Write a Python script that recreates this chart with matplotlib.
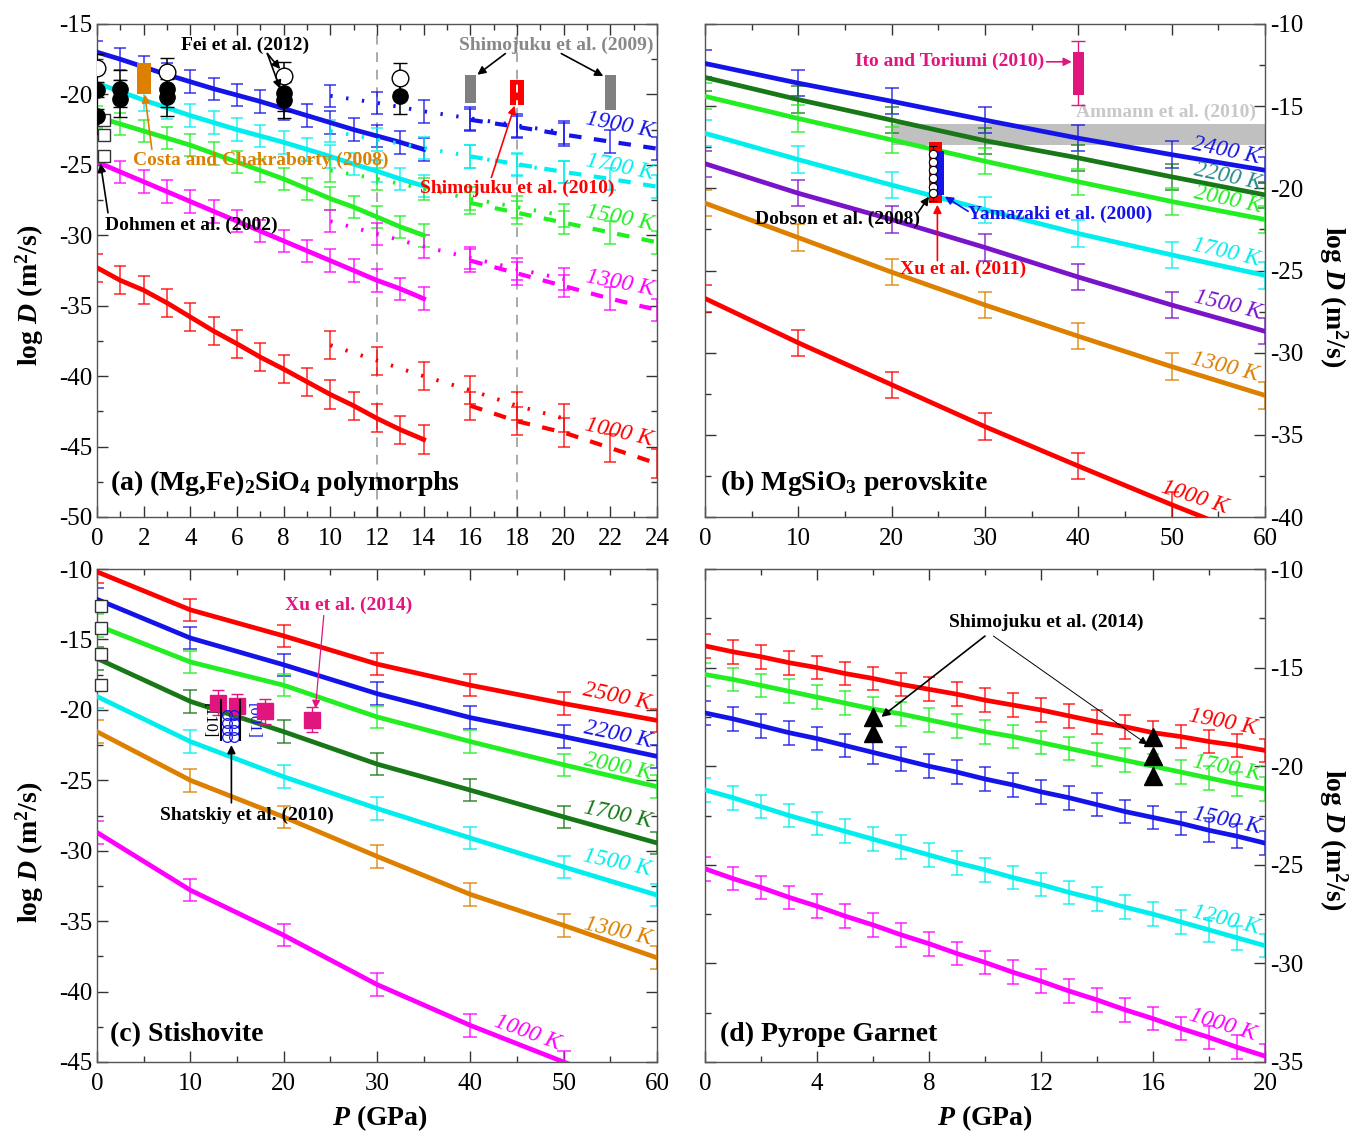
import matplotlib
matplotlib.use('Agg')
import matplotlib.pyplot as plt
import numpy as np
from matplotlib.ticker import MultipleLocator

plt.rcParams['font.family'] = ['Liberation Serif', 'DejaVu Serif']
plt.rcParams['mathtext.fontset'] = 'custom'
plt.rcParams['mathtext.rm'] = 'Liberation Serif:bold'
plt.rcParams['mathtext.it'] = 'Liberation Serif:italic:bold'
plt.rcParams['mathtext.bf'] = 'Liberation Serif:bold'
plt.rcParams['axes.unicode_minus'] = False

BLUE = '#1414e8'
CYAN = '#00eeee'
GREEN = '#22ee22'
MAGENTA = '#ff00ff'
RED = '#ff0000'
DKGREEN = '#187818'
PURPLE = '#7a14c8'
ORANGE = '#dd8000'
PINK = '#e0167e'

# ---------------- (a) (Mg,Fe)2SiO4 polymorphs ----------------
A_P_SOLID = list(range(15))
A_1900 = [-17.0, -17.5, -18.05, -18.6, -19.1, -19.6, -20.05, -20.5, -21.0, -21.5, -22.0, -22.5, -22.95, -23.4, -23.9]
A_1700 = [-19.2, -19.8, -20.4, -20.95, -21.5, -22.0, -22.5, -22.95, -23.4, -23.9, -24.4, -24.95, -25.45, -26.0, -26.5]
A_1500 = [-21.6, -22.1, -22.6, -23.1, -23.6, -24.2, -24.8, -25.4, -26.0, -26.7, -27.4, -28.0, -28.7, -29.4, -30.0]
A_1300 = [-24.8, -25.5, -26.2, -26.9, -27.6, -28.3, -29.0, -29.7, -30.4, -31.1, -31.8, -32.5, -33.2, -33.8, -34.5]
A_1000 = [-32.3, -33.2, -33.9, -34.8, -35.8, -36.8, -37.7, -38.65, -39.5, -40.4, -41.3, -42.1, -43.0, -43.8, -44.5]

A_P_DOT = [10, 12, 14, 16, 18, 20]
A_1900_DOT = [-20.1, -20.6, -21.2, -21.7, -22.2, -22.7]
A_1700_DOT = [-22.6, -23.2, -23.8, -24.4, -25.0, -25.5]
A_1500_DOT = [-25.4, -26.0, -26.7, -27.4, -28.0, -28.6]
A_1300_DOT = [-29.0, -29.9, -30.8, -31.6, -32.4, -33.1]
A_1000_DOT = [-37.8, -38.9, -40.0, -41.0, -42.1, -43.0]

A_P_DASH = [16, 18, 20, 22, 24]
A_1900_DASH = [-21.8, -22.3, -22.85, -23.35, -23.85]
A_1700_DASH = [-24.4, -24.95, -25.5, -26.0, -26.55]
A_1500_DASH = [-27.7, -28.4, -29.1, -29.8, -30.5]
A_1300_DASH = [-31.8, -32.7, -33.6, -34.5, -35.3]
A_1000_DASH = [-42.1, -43.2, -44.0, -45.1, -46.2]

FEI_OPEN_P = [0, 3, 8, 13]
FEI_OPEN_D = [-18.15, -18.4, -18.7, -18.8]
FEI_FILL_P = [0, 0, 1, 1, 3, 3, 8, 8, 13]
FEI_FILL_D = [-19.7, -21.5, -19.6, -20.3, -19.6, -20.2, -19.9, -20.4, -20.1]
DOHMEN_P = [0.3, 0.3, 0.3]
DOHMEN_D = [-21.8, -22.9, -24.4]
COSTA_P = [2.0]
COSTA_LO = [-20.0]
COSTA_HI = [-17.8]
SHIM09_P = [16.0, 22.0]
SHIM09_LO = [-20.6, -21.1]
SHIM09_HI = [-18.6, -18.6]
SHIM10_P = [18.0]
SHIM10_LO = [-20.75]
SHIM10_HI = [-19.0]

# ---------------- (b) MgSiO3 perovskite ----------------
B_P = [0, 10, 20, 30, 40, 50, 60]
B_2400 = [-12.4, -13.6, -14.7, -15.85, -16.95, -17.95, -18.9]
B_2200 = [-13.25, -14.6, -15.85, -17.1, -18.15, -19.3, -20.4]
B_2000 = [-14.4, -15.75, -17.05, -18.35, -19.6, -20.8, -21.9]
B_1700 = [-16.65, -18.25, -19.8, -21.3, -22.75, -24.05, -25.3]
B_1500 = [-18.5, -20.3, -21.9, -23.6, -25.4, -27.1, -28.7]
B_1300 = [-20.9, -23.0, -25.1, -27.1, -29.0, -30.85, -32.6]
B_1000 = [-26.7, -29.4, -31.95, -34.5, -36.9, -39.25, -41.5]

ITO_P = [40.0]
ITO_LO = [-14.3]
ITO_HI = [-11.7]
AMMANN_P = [20.0, 60.0]
AMMANN_LO = [-17.35, -17.35]
AMMANN_HI = [-16.1, -16.1]
XU11_P = [24.7]
XU11_LO = [-20.9]
XU11_HI = [-17.2]
YAMA_P = [25.1]
YAMA_LO = [-20.4]
YAMA_HI = [-17.7]
DOBSON_P = [24.4] * 6
DOBSON_D = [-17.9, -18.4, -18.9, -19.4, -19.9, -20.3]

# ---------------- (c) Stishovite ----------------
C_P = [0, 10, 20, 30, 40, 50, 60]
C_2500 = [-10.2, -12.9, -14.75, -16.75, -18.25, -19.55, -20.75]
C_2200 = [-12.15, -14.9, -16.8, -18.85, -20.55, -21.9, -23.3]
C_2000 = [-14.0, -16.6, -18.25, -20.5, -22.25, -23.9, -25.45]
C_1700 = [-16.35, -19.4, -21.55, -23.85, -25.7, -27.6, -29.45]
C_1500 = [-19.05, -22.25, -24.75, -27.0, -29.1, -31.15, -33.15]
C_1300 = [-21.55, -25.0, -27.6, -30.4, -33.1, -35.3, -37.6]
C_1000 = [-28.7, -32.8, -36.0, -39.5, -42.4, -45.0, -47.5]

XU14_P = [13, 15, 18, 23]
XU14_D = [-19.5, -19.75, -20.1, -20.7]
SHAT_P1 = [13.9] * 4
SHAT_P2 = [14.7] * 4
SHAT_D = [-20.4, -20.9, -21.4, -21.9]
EDGE_P = [0.4] * 4
EDGE_D = [-12.6, -14.2, -16.0, -18.2]

# ---------------- (d) Pyrope garnet ----------------
D_P = list(range(21))
D_1900 = [-13.9, -14.2, -14.45, -14.75, -15.0, -15.3, -15.55, -15.85, -16.1, -16.35, -16.65,
          -16.9, -17.15, -17.45, -17.75, -18.0, -18.3, -18.5, -18.75, -18.95, -19.2]
D_1700 = [-15.35, -15.6, -15.9, -16.2, -16.5, -16.8, -17.1, -17.35, -17.65, -17.95, -18.25,
          -18.5, -18.8, -19.1, -19.4, -19.7, -20.0, -20.3, -20.6, -20.9, -21.15]
D_1500 = [-17.3, -17.6, -17.95, -18.3, -18.6, -18.95, -19.3, -19.65, -20.0, -20.3, -20.65,
          -20.95, -21.3, -21.6, -21.95, -22.3, -22.6, -22.9, -23.25, -23.55, -23.9]
D_1200 = [-21.2, -21.6, -22.05, -22.5, -22.9, -23.3, -23.7, -24.1, -24.5, -24.9, -25.25,
          -25.65, -26.0, -26.4, -26.75, -27.15, -27.5, -27.9, -28.3, -28.7, -29.1]
D_1000 = [-25.2, -25.7, -26.15, -26.65, -27.1, -27.6, -28.05, -28.55, -29.0, -29.5, -29.95,
          -30.45, -30.9, -31.4, -31.85, -32.35, -32.8, -33.3, -33.75, -34.25, -34.7]

SHIM14_P = [6, 6, 16, 16, 16]
SHIM14_D = [-17.5, -18.3, -18.5, -19.5, -20.5]

W, H = 1353, 1135


def frame(l, t, r, b):
    return [l / W, 1 - b / H, (r - l) / W, (b - t) / H]


def style(ax, xmax, xmaj, xmin, ylo, yhi, right=False):
    ax.set_xlim(0, xmax)
    ax.set_ylim(ylo, yhi)
    ax.xaxis.set_major_locator(MultipleLocator(xmaj))
    ax.xaxis.set_minor_locator(MultipleLocator(xmin))
    ax.yaxis.set_major_locator(MultipleLocator(5))
    ax.yaxis.set_minor_locator(MultipleLocator(2.5))
    ax.tick_params(which='both', direction='in', top=True, right=True, labelsize=18, colors='#333333')
    ax.tick_params(axis='x', pad=8)
    ax.tick_params(which='major', length=8, width=1)
    ax.tick_params(which='minor', length=4, width=1)
    if right:
        ax.yaxis.tick_right()
        ax.tick_params(axis='y', which='both', left=True, labelleft=False, labelright=True)
    for lab in ax.get_xticklabels() + ax.get_yticklabels():
        lab.set_color('black')
    for s in ax.spines.values():
        s.set_color('#555555')
        s.set_linewidth(1.0)


def curve(ax, p, d, c, err, ls='-', lw=3.4, cap=4):
    ax.plot(p, d, color=c, lw=lw, ls=ls, zorder=3)
    ax.errorbar(p, d, yerr=err, fmt='none', ecolor=c, elinewidth=1.1,
                capsize=cap, capthick=1.1, alpha=0.85, zorder=2)


def tlabel(ax, x, y, s, c, rot):
    ax.text(x, y, s, color=c, fontsize=17, style='italic', rotation=rot,
            ha='center', va='center', zorder=6)


def note(ax, x, y, s, c, ha='left'):
    ax.text(x, y, s, color=c, fontsize=14, fontweight='bold', ha=ha, va='center', zorder=7)


def pointer(ax, start, end, c, lw=1.2):
    ax.annotate('', xy=end, xytext=start,
                arrowprops=dict(arrowstyle='-|>', color=c, lw=lw, mutation_scale=12,
                                shrinkA=0, shrinkB=0), zorder=7)


fig = plt.figure(figsize=(13.53, 11.35), dpi=100)
axa = fig.add_axes(frame(97, 24, 657, 517))
axb = fig.add_axes(frame(705, 24, 1265, 517))
axc = fig.add_axes(frame(97, 569, 657, 1062))
axd = fig.add_axes(frame(705, 569, 1265, 1062))

# ---- panel a ----
style(axa, 24, 2, 1, -50, -15)
for xv in (12, 18):
    axa.axvline(xv, color='#aaaaaa', lw=1.4, ls=(0, (5, 4)), zorder=1)
for solid, dot, dash, c, e in [(A_1900, A_1900_DOT, A_1900_DASH, BLUE, 0.8),
                               (A_1700, A_1700_DOT, A_1700_DASH, CYAN, 0.8),
                               (A_1500, A_1500_DOT, A_1500_DASH, GREEN, 0.8),
                               (A_1300, A_1300_DOT, A_1300_DASH, MAGENTA, 0.8),
                               (A_1000, A_1000_DOT, A_1000_DASH, RED, 1.0)]:
    curve(axa, A_P_SOLID, solid, c, e)
    curve(axa, A_P_DOT, dot, c, e, ls=(0, (0.6, 3.5)), lw=2.8)
    curve(axa, A_P_DASH, dash, c, e, ls=(0, (3, 3)), lw=3.0)

axa.errorbar(FEI_FILL_P, FEI_FILL_D, yerr=1.3, fmt='o', ms=11, mfc='black', mec='black',
             ecolor='black', elinewidth=1.1, capsize=5, zorder=5)
axa.errorbar(FEI_OPEN_P, FEI_OPEN_D, yerr=1.0, fmt='o', ms=12, mfc='white', mec='black',
             ecolor='black', elinewidth=1.1, capsize=5, zorder=5)
axa.plot(DOHMEN_P, DOHMEN_D, 's', ms=9, mfc='white', mec='#333333', mew=1, zorder=5)
axa.bar(COSTA_P, np.subtract(COSTA_HI, COSTA_LO), bottom=COSTA_LO, width=0.6,
        color=ORANGE, zorder=5)
axa.bar(SHIM09_P, np.subtract(SHIM09_HI, SHIM09_LO), bottom=SHIM09_LO, width=0.5,
        color='#808080', zorder=5)
axa.bar(SHIM10_P, np.subtract(SHIM10_HI, SHIM10_LO), bottom=SHIM10_LO, width=0.6,
        color=RED, zorder=5)
axa.axvline(18, color='white', lw=1.4, ls=(0, (4, 4)), ymin=0.83, ymax=0.89, zorder=6)

note(axa, 3.6, -16.5, 'Fei et al. (2012)', 'black')
pointer(axa, (7.3, -17.1), (7.85, -18.2), 'black')
pointer(axa, (7.3, -17.1), (7.85, -19.6), 'black')
note(axa, 1.55, -24.65, 'Costa and Chakraborty (2008)', ORANGE)
pointer(axa, (2.35, -23.9), (2.05, -20.0), ORANGE)
note(axa, 0.35, -29.3, 'Dohmen et al. (2002)', 'black')
pointer(axa, (0.47, -28.4), (0.15, -24.9), 'black')
note(axa, 15.5, -16.5, 'Shimojuku et al. (2009)', '#888888')
pointer(axa, (17.5, -17.1), (16.3, -18.6), 'black')
pointer(axa, (19.9, -17.1), (21.7, -18.7), 'black')
note(axa, 13.85, -26.65, 'Shimojuku et al. (2010)', RED)
pointer(axa, (16.9, -25.9), (17.9, -20.8), RED)

tlabel(axa, 22.4, -22.2, '1900 K', BLUE, -11)
tlabel(axa, 22.4, -25.2, '1700 K', CYAN, -11)
tlabel(axa, 22.4, -28.8, '1500 K', GREEN, -11)
tlabel(axa, 22.4, -33.4, '1300 K', MAGENTA, -11)
tlabel(axa, 22.35, -44.0, '1000 K', RED, -13)
axa.text(0.023, 0.069, r'(a) (Mg,Fe)$_\mathrm{2}$SiO$_\mathrm{4}$ polymorphs', transform=axa.transAxes,
         fontsize=20, fontweight='bold', va='center')

# ---- panel b ----
style(axb, 60, 10, 5, -40, -10, right=True)
axb.fill_between(AMMANN_P, AMMANN_LO, AMMANN_HI, color='#c0c0c0', lw=0, zorder=1)
for d, c in [(B_2400, BLUE), (B_2200, DKGREEN), (B_2000, GREEN), (B_1700, CYAN),
             (B_1500, PURPLE), (B_1300, ORANGE), (B_1000, RED)]:
    curve(axb, B_P, d, c, 0.8, cap=5)
axb.bar(ITO_P, np.subtract(ITO_HI, ITO_LO), bottom=ITO_LO, width=1.2, color=PINK, zorder=5)
axb.errorbar(ITO_P, [(ITO_HI[0] + ITO_LO[0]) / 2], yerr=1.95, fmt='none', ecolor=PINK,
             elinewidth=1, capsize=5, zorder=5)
axb.bar(XU11_P, np.subtract(XU11_HI, XU11_LO), bottom=XU11_LO, width=1.4, color=RED, zorder=5)
axb.bar(YAMA_P, np.subtract(YAMA_HI, YAMA_LO), bottom=YAMA_LO, width=1.0, color=BLUE, zorder=6)
axb.errorbar(DOBSON_P, DOBSON_D, yerr=0.5, fmt='o', ms=6, mfc='white', mec='black', mew=0.8,
             ecolor='black', elinewidth=0.8, capsize=3, zorder=7)

note(axb, 36.4, -12.3, 'Ito and Toriumi (2010)', PINK, ha='right')
pointer(axb, (36.6, -12.3), (39.3, -12.3), PINK)
axb.text(59, -15.4, 'Ammann et al. (2010)', color='#c8c8c8', fontsize=14, fontweight='bold',
         ha='right', va='center', zorder=4)
note(axb, 20.9, -24.95, 'Xu et al. (2011)', RED)
pointer(axb, (24.9, -24.4), (24.9, -21.0), RED)
note(axb, 28.2, -21.6, 'Yamazaki et al. (2000)', BLUE)
pointer(axb, (28.2, -21.4), (25.7, -20.5), BLUE)
note(axb, 5.4, -21.9, 'Dobson et al. (2008)', 'black')
pointer(axb, (22.8, -21.5), (24.0, -20.5), 'black')

tlabel(axb, 55.8, -17.7, '2400 K', BLUE, -12)
tlabel(axb, 56.0, -19.3, '2200 K', '#2a8a8a', -12)
tlabel(axb, 56.0, -20.7, '2000 K', GREEN, -12)
tlabel(axb, 55.8, -23.9, '1700 K', CYAN, -13)
tlabel(axb, 56.0, -27.1, '1500 K', PURPLE, -14)
tlabel(axb, 55.7, -30.9, '1300 K', ORANGE, -14)
tlabel(axb, 52.5, -38.8, '1000 K', RED, -18)
axb.text(0.027, 0.069, r'(b) MgSiO$_\mathrm{3}$ perovskite', transform=axb.transAxes,
         fontsize=20, fontweight='bold', va='center')

# ---- panel c ----
style(axc, 60, 10, 5, -45, -10)
for d, c in [(C_2500, RED), (C_2200, BLUE), (C_2000, GREEN), (C_1700, DKGREEN),
             (C_1500, CYAN), (C_1300, ORANGE), (C_1000, MAGENTA)]:
    curve(axc, C_P, d, c, 0.8, cap=5)
axc.plot(EDGE_P, EDGE_D, 's', ms=9, mfc='white', mec='#333333', mew=1, zorder=5, clip_on=False)
axc.errorbar(XU14_P, XU14_D, yerr=0.9, fmt='s', ms=12, mfc=PINK, mec=PINK, ecolor=PINK,
             elinewidth=1, capsize=4, zorder=5)
axc.plot(SHAT_P1, SHAT_D, 'o', ms=7, mfc='none', mec=BLUE, mew=0.9, zorder=6)
axc.plot(SHAT_P2, SHAT_D, 'o', ms=7, mfc='none', mec=BLUE, mew=0.9, zorder=6)
axc.vlines([13.3, 15.3], -22.2, -19.2, color='black', lw=1.5, zorder=6)
axc.text(12.0, -20.8, '[110]', rotation=270, fontsize=12, ha='center', va='center', color='black')
axc.text(16.7, -20.8, '[001]', rotation=270, fontsize=12, ha='center', va='center', color=BLUE)

note(axc, 20.1, -12.55, 'Xu et al. (2014)', PINK)
pointer(axc, (24.3, -13.3), (23.4, -19.9), PINK, lw=0.9)
note(axc, 6.7, -27.5, 'Shatskiy et al. (2010)', 'black')
pointer(axc, (14.4, -26.6), (14.4, -22.5), 'black')
tlabel(axc, 55.7, -19.1, '2500 K', RED, -12)
tlabel(axc, 55.8, -21.8, '2200 K', BLUE, -12)
tlabel(axc, 55.8, -24.05, '2000 K', GREEN, -12)
tlabel(axc, 55.8, -27.45, '1700 K', DKGREEN, -12)
tlabel(axc, 55.7, -30.85, '1500 K', CYAN, -12)
tlabel(axc, 55.8, -35.75, '1300 K', ORANGE, -13)
tlabel(axc, 46.1, -42.9, '1000 K', MAGENTA, -20)
axc.text(0.023, 0.055, '(c) Stishovite', transform=axc.transAxes,
         fontsize=20, fontweight='bold', va='center')

# ---- panel d ----
style(axd, 20, 4, 2, -35, -10, right=True)
for d, c in [(D_1900, RED), (D_1700, GREEN), (D_1500, BLUE), (D_1200, CYAN), (D_1000, MAGENTA)]:
    curve(axd, D_P, d, c, 0.6, cap=4)
axd.plot(SHIM14_P, SHIM14_D, '^', ms=13, color='black', zorder=6)
note(axd, 8.7, -12.7, 'Shimojuku et al. (2014)', 'black')
pointer(axd, (10.0, -13.4), (6.3, -17.5), 'black')
pointer(axd, (10.3, -13.4), (15.8, -18.9), 'black', lw=0.7)
tlabel(axd, 18.5, -17.75, '1900 K', RED, -11)
tlabel(axd, 18.65, -20.1, '1700 K', GREEN, -11)
tlabel(axd, 18.65, -22.75, '1500 K', BLUE, -12)
tlabel(axd, 18.6, -27.8, '1200 K', CYAN, -14)
tlabel(axd, 18.5, -33.1, '1000 K', MAGENTA, -17)
axd.text(0.027, 0.055, '(d) Pyrope Garnet', transform=axd.transAxes,
         fontsize=20, fontweight='bold', va='center')

# ---- axis titles ----
ylab = r'$\mathrm{log}\ \mathit{D}\ \mathrm{(m^2/s)}$'
xlab = r'$\mathit{P}\ \mathrm{(GPa)}$'
fig.text(30 / W, 1 - 295 / H, ylab, rotation=90, ha='center', va='center', fontsize=20)
fig.text(30 / W, 1 - 852 / H, ylab, rotation=90, ha='center', va='center', fontsize=20)
fig.text(1333 / W, 1 - 297 / H, ylab, rotation=270, ha='center', va='center', fontsize=20)
fig.text(1333 / W, 1 - 840 / H, ylab, rotation=270, ha='center', va='center', fontsize=20)
fig.text(380 / W, 1 - 1118 / H, xlab, ha='center', va='center', fontsize=20)
fig.text(985 / W, 1 - 1118 / H, xlab, ha='center', va='center', fontsize=20)

fig.savefig('out.png', dpi=100)
